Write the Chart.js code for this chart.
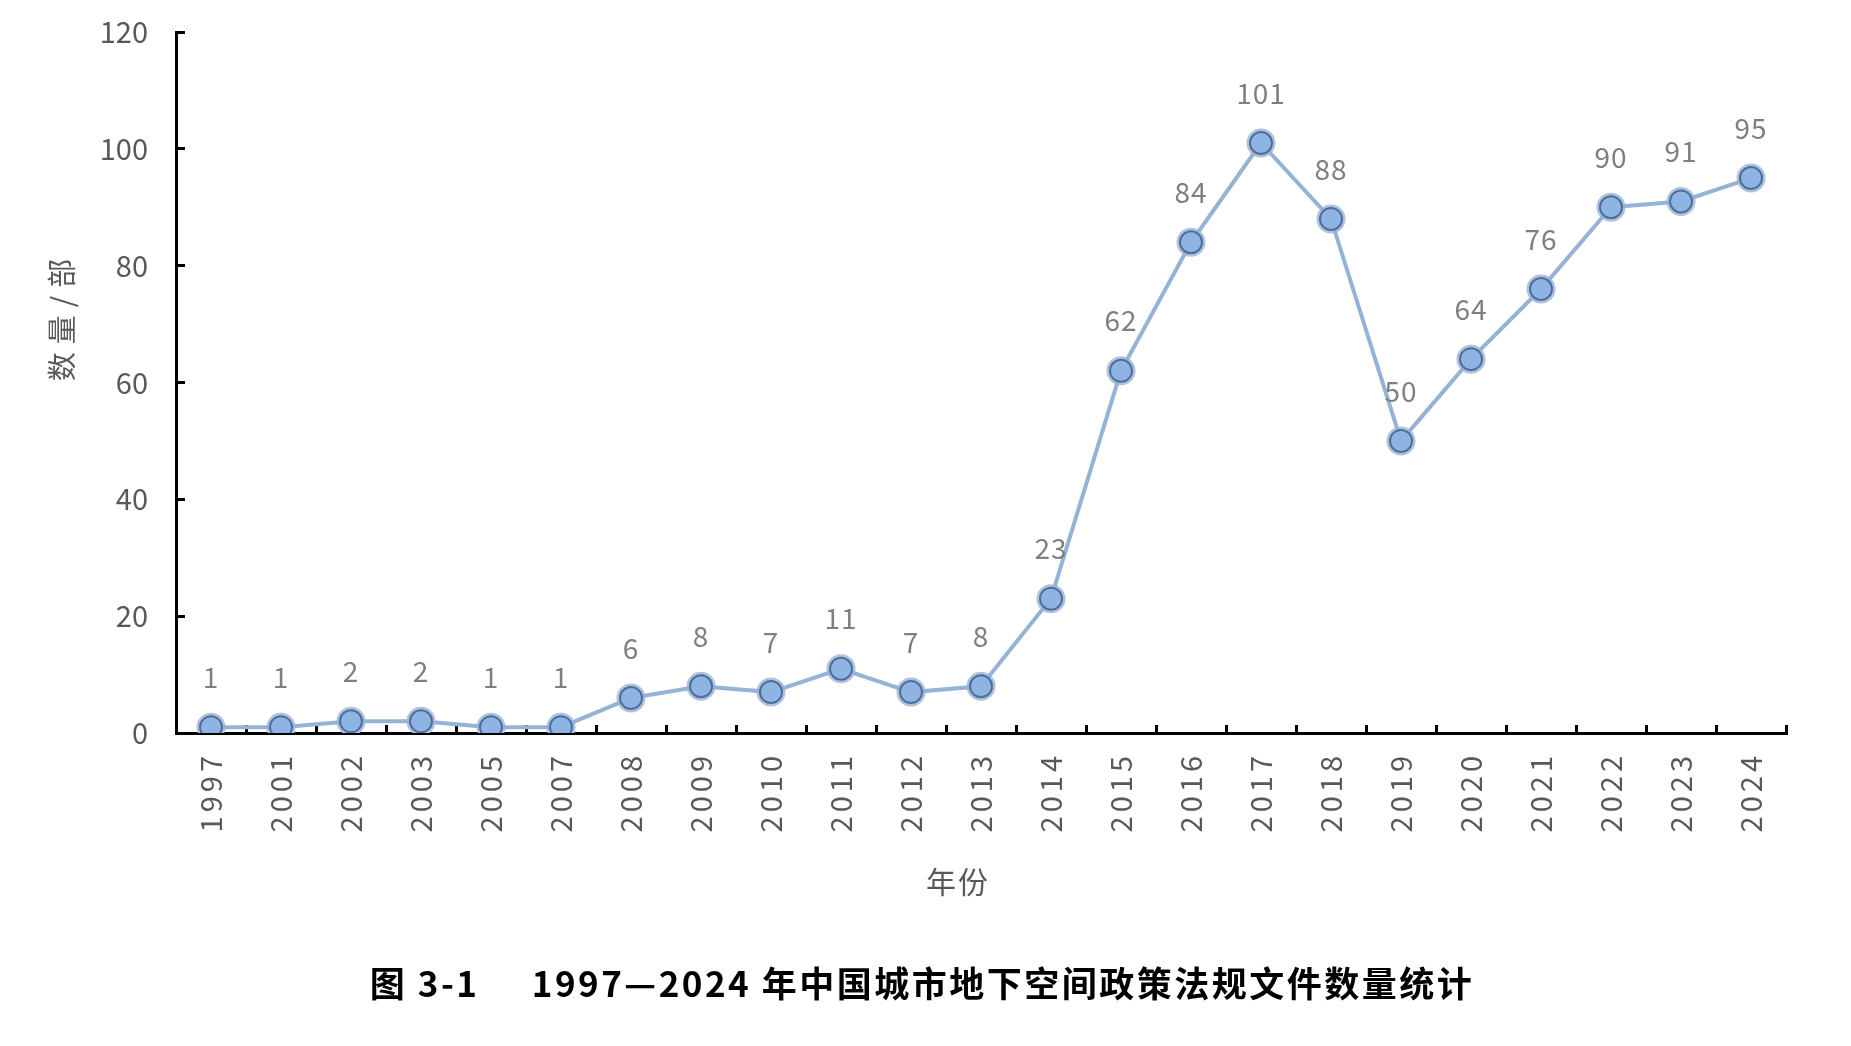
<!DOCTYPE html>
<html>
<head>
<meta charset="utf-8">
<script src="https://cdn.jsdelivr.net/npm/chart.js@4.4.1/dist/chart.umd.min.js"></script>
<style>
    html, body { margin: 0; padding: 0; background: #fff; }
    #wrap { width: 1851px; height: 1046px; }
</style>
</head>
<body>
<div id="wrap"><canvas id="policyChart" width="1851" height="1046"></canvas></div>
<script>
// Years and number of policy documents
const years = ['1997', '2001', '2002', '2003', '2005', '2007', '2008', '2009', '2010', '2011', '2012',
    '2013', '2014', '2015', '2016', '2017', '2018', '2019', '2020', '2021', '2022', '2023', '2024'];
const counts = [1, 1, 2, 2, 1, 1, 6, 8, 7, 11, 7, 8, 23, 62, 84, 101, 88, 50, 64, 76, 90, 91, 95];
const yTicks = [0, 20, 40, 60, 80, 100, 120];

const yTitle = '数量/部';
const xTitle = '年份';
const figTitle = '图 3-1     1997—2024 年中国城市地下空间政策法规文件数量统计';

const FONT = '"Noto Sans CJK SC", "Noto Sans", sans-serif';
Chart.defaults.font.family = FONT;

// Value labels above each point, plus axis titles and figure caption
const annotations = {
    id: 'annotations',
    afterDatasetsDraw(chart) {
        const ctx = chart.ctx;
        const meta = chart.getDatasetMeta(0);
        ctx.save();
        ctx.letterSpacing = '1px';
        ctx.fillStyle = '#7f7f7f';
        ctx.font = '28px ' + FONT;
        ctx.textAlign = 'center';
        ctx.textBaseline = 'middle';
        meta.data.forEach((pt, i) => {
            ctx.fillText(String(counts[i]), pt.x, pt.y - 50);
        });
        ctx.restore();
    },
    afterDraw(chart) {
        const ctx = chart.ctx;
        const area = chart.chartArea;

        // y axis title
        ctx.save();
        ctx.fillStyle = '#595959';
        ctx.font = '29px ' + FONT;
        ctx.letterSpacing = '8px';
        ctx.textAlign = 'center';
        ctx.textBaseline = 'middle';
        ctx.translate(62, area.top + 288);
        ctx.rotate(-Math.PI / 2);
        ctx.fillText(yTitle, 4, 0);
        ctx.restore();

        // x axis title
        ctx.save();
        ctx.fillStyle = '#595959';
        ctx.font = '30px ' + FONT;
        ctx.letterSpacing = '2px';
        ctx.textAlign = 'center';
        ctx.textBaseline = 'middle';
        ctx.fillText(xTitle, 958, area.bottom + 149);
        ctx.restore();

        // figure caption
        ctx.save();
        ctx.fillStyle = '#000';
        ctx.font = 'bold 35px "Noto Sans CJK SC", sans-serif';
        ctx.letterSpacing = '2.5px';
        ctx.textAlign = 'center';
        ctx.textBaseline = 'middle';
        ctx.fillText(figTitle, 922, area.bottom + 251, 1110);
        ctx.restore();
    }
};

const chart = new Chart(document.getElementById('policyChart'), {
    type: 'line',
    data: {
        labels: years,
        datasets: [{
            data: counts,
            order: 0,
            borderColor: '#95b3d7',
            borderWidth: 4,
            pointRadius: 11,
            pointHoverRadius: 11,
            pointBackgroundColor: '#8db4e2',
            pointBorderColor: '#4f6e9a',
            pointBorderWidth: 2,
            tension: 0
        }, {
            // light halo round each marker
            data: counts,
            order: 1,
            showLine: false,
            pointRadius: 14.5,
            pointHoverRadius: 14.5,
            pointBackgroundColor: '#aec2dd',
            pointBorderWidth: 0
        }]
    },
    options: {
        responsive: false,
        animation: false,
        events: [],
        layout: {
            padding: { left: 0, top: 32, right: 65, bottom: 83 }
        },
        plugins: {
            legend: { display: false },
            tooltip: { enabled: false }
        },
        scales: {
            x: {
                type: 'category',
                offset: true,
                grid: {
                    offset: true,
                    drawOnChartArea: false,
                    tickLength: -8,
                    tickWidth: 3,
                    tickColor: '#000'
                },
                border: { color: '#000', width: 3 },
                ticks: {
                    autoSkip: false,
                    minRotation: 90,
                    maxRotation: 90,
                    padding: 27,
                    color: '#595959',
                    font: { size: 29 }
                },
                afterFit(scale) { scale.height = 230; }
            },
            y: {
                min: 0,
                max: 120,
                afterBuildTicks(scale) { scale.ticks = yTicks.map(v => ({ value: v })); },
                grid: {
                    drawOnChartArea: false,
                    tickLength: -9,
                    tickWidth: 3,
                    tickColor: '#000'
                },
                border: { color: '#000', width: 3 },
                ticks: {
                    padding: 37,
                    color: '#595959',
                    font: { size: 29 }
                },
                afterFit(scale) {
                    scale.width = 176;
                    // tick padding would otherwise push the plot down
                    scale.paddingTop = 18;
                    scale.paddingBottom = 18;
                }
            }
        }
    },
    plugins: [annotations]
});

// year labels are letter-spaced in the original
const xScale = chart.scales.x;
const drawXLabels = xScale.drawLabels.bind(xScale);
xScale.drawLabels = function (area) {
    const ctx = chart.ctx;
    ctx.letterSpacing = '4px';
    drawXLabels(area);
    ctx.letterSpacing = '0px';
};
chart.draw();
</script>
</body>
</html>
